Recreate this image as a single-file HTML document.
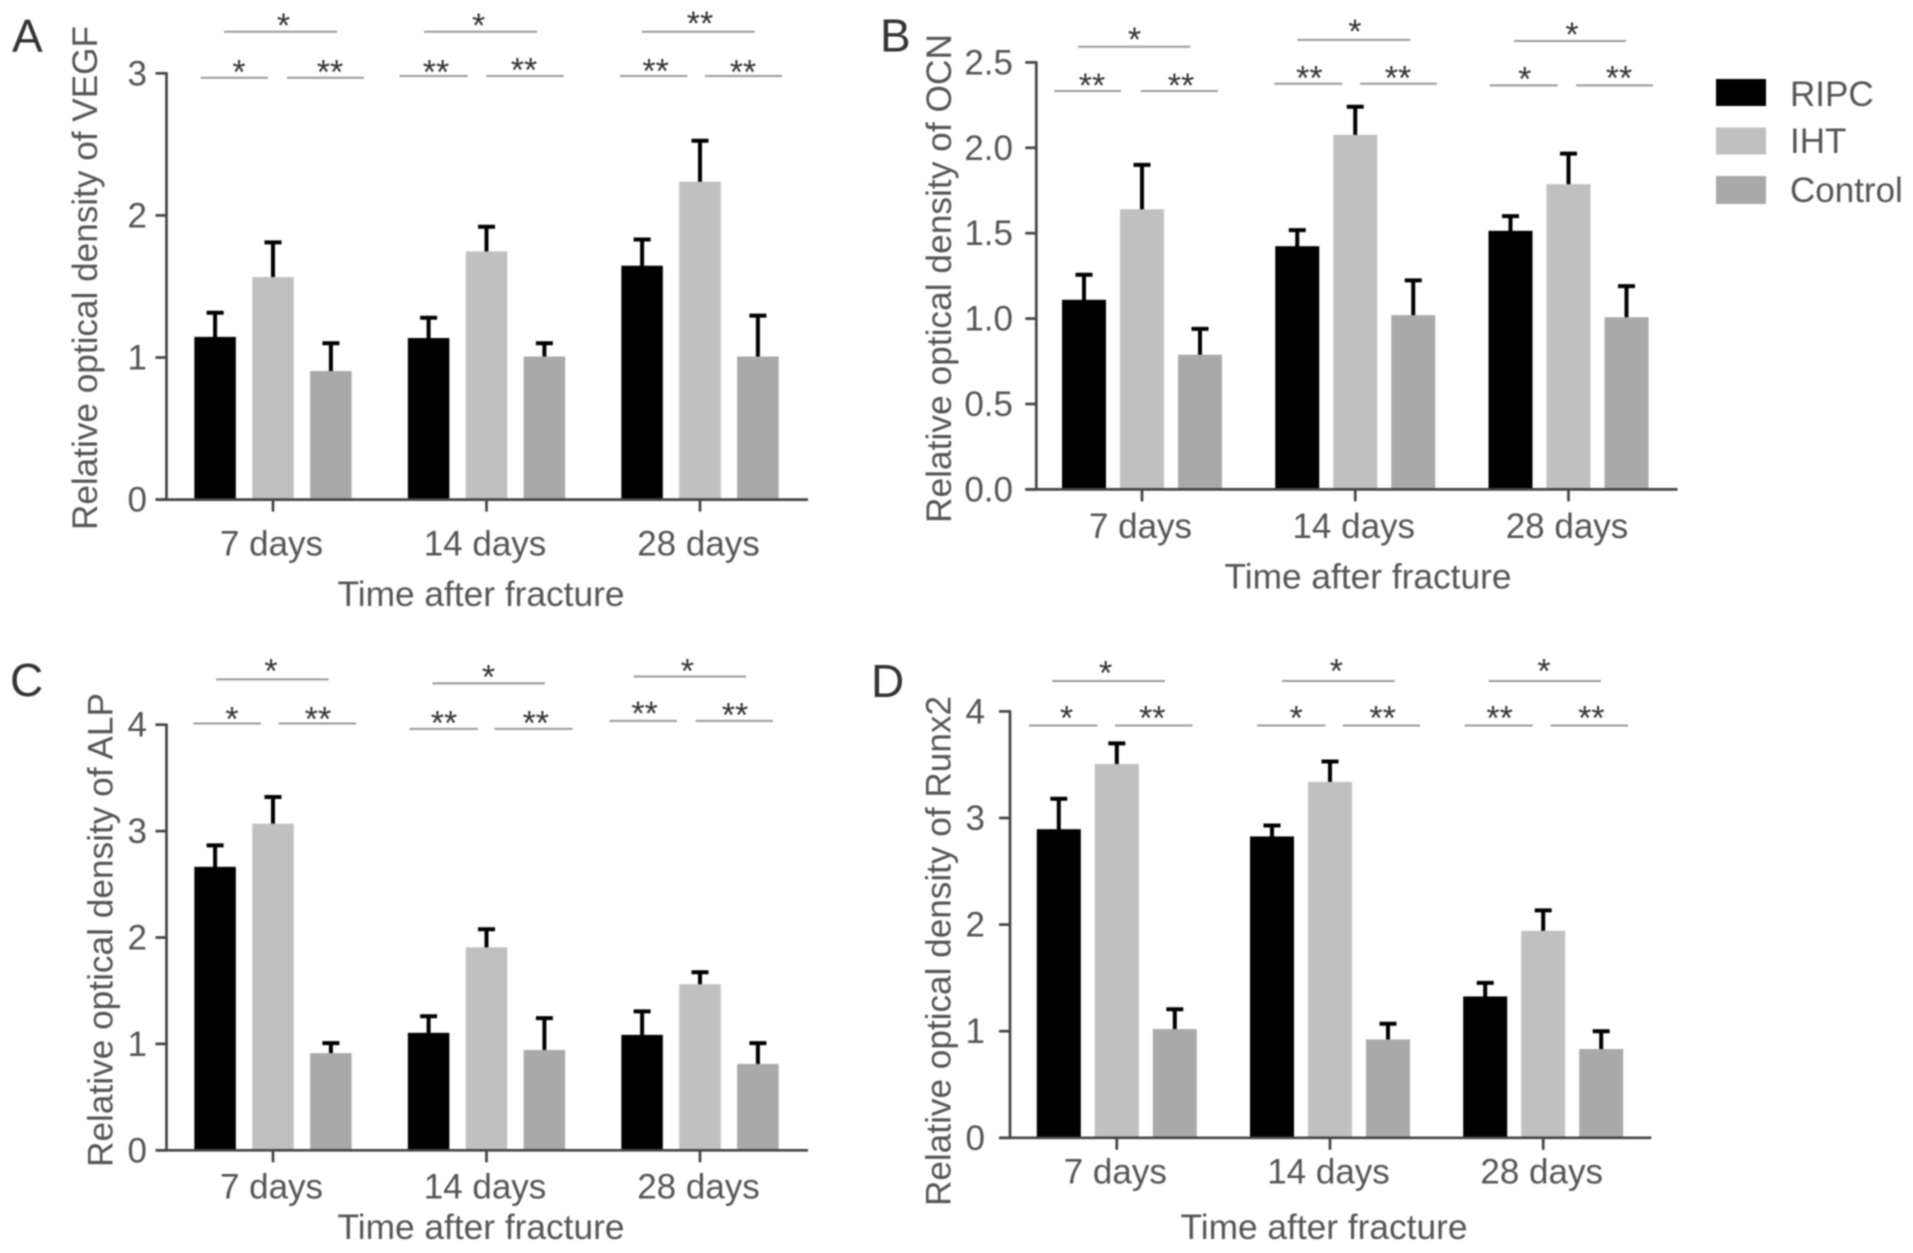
<!DOCTYPE html>
<html lang="en">
<head>
<meta charset="utf-8">
<title>Relative optical density by time after fracture</title>
<style>
html,body{margin:0;padding:0;background:#fff;}
#figure{display:block;width:1913px;height:1253px;filter:blur(0.8px);}
text{font-family:"Liberation Sans",sans-serif;fill:#555;}
</style>
</head>
<body>
<svg id="figure" xmlns="http://www.w3.org/2000/svg" width="1913" height="1253" viewBox="0 0 1913 1253">
  <g>
    <rect x="1716" y="79" width="50" height="27" fill="#000"/>
    <text x="1790" y="106" font-size="35">RIPC</text>
    <rect x="1716" y="127.5" width="50" height="27" fill="#c0c0c0"/>
    <text x="1790" y="153" font-size="35">IHT</text>
    <rect x="1716" y="176" width="50" height="28" fill="#a9a9a9"/>
    <text x="1790" y="202" font-size="35">Control</text>
  </g>
</svg>
<script>
// Shared categories and series
const categories = ["7 days", "14 days", "28 days"];
const seriesNames = ["RIPC", "IHT", "Control"];

// Panel A: VEGF
const vegfTicks = ["0", "1", "2", "3"];
const vegfRipc = [1.145, 1.137, 1.646];
const vegfIht = [1.566, 1.747, 2.237];
const vegfControl = [0.905, 1.007, 1.007];
const vegfRipcErr = [0.17, 0.143, 0.184];
const vegfIhtErr = [0.244, 0.173, 0.288];
const vegfControlErr = [0.195, 0.093, 0.288];
const vegfSigLabels = ["*", "*", "**", "*", "**", "**", "**", "**", "**"];

// Panel B: OCN
const ocnTicks = ["0.0", "0.5", "1.0", "1.5", "2.0", "2.5"];
const ocnRipc = [1.11, 1.424, 1.514];
const ocnIht = [1.64, 2.076, 1.787];
const ocnControl = [0.789, 1.02, 1.008];
const ocnRipcErr = [0.147, 0.094, 0.086];
const ocnIhtErr = [0.26, 0.164, 0.179];
const ocnControlErr = [0.151, 0.204, 0.182];
const ocnSigLabels = ["*", "*", "*", "**", "**", "**", "**", "*", "**"];

// Panel C: ALP
const alpTicks = ["0", "1", "2", "3", "4"];
const alpRipc = [2.664, 1.104, 1.085];
const alpIht = [3.07, 1.908, 1.56];
const alpControl = [0.913, 0.943, 0.812];
const alpRipcErr = [0.202, 0.156, 0.221];
const alpIhtErr = [0.25, 0.169, 0.113];
const alpControlErr = [0.094, 0.299, 0.195];
const alpSigLabels = ["*", "*", "*", "*", "**", "**", "**", "**", "**"];

// Panel D: Runx2
const runxTicks = ["0", "1", "2", "3", "4"];
const runxRipc = [2.895, 2.827, 1.326];
const runxIht = [3.507, 3.339, 1.942];
const runxControl = [1.02, 0.923, 0.833];
const runxRipcErr = [0.285, 0.103, 0.127];
const runxIhtErr = [0.193, 0.191, 0.191];
const runxControlErr = [0.186, 0.147, 0.167];
const runxSigLabels = ["*", "*", "*", "*", "**", "*", "**", "**", "**"];

const seriesColors = ["#000000", "#c0c0c0", "#a9a9a9"];
const SVG_NS = "http://www.w3.org/2000/svg";
const figure = document.getElementById("figure");

function mk(parent, tag, attrs, content) {
  const node = document.createElementNS(SVG_NS, tag);
  for (const key in attrs) node.setAttribute(key, attrs[key]);
  if (content !== undefined) node.textContent = content;
  parent.appendChild(node);
  return node;
}

const panels = [
  { id: "a", letter: "A", letterX: 12, letterY: 52, ticks: vegfTicks,
    yMax: 3, axisX: 166.5, axisEnd: 808, y0: 499.6, yTop: 73.3, firstGroup: 273, groupStep: 213.5,
    barWidth: 41.5, barPitch: 57.9, tickLabelX: 147,
    yTitle: "Relative optical density of VEGF", yTitleX: 97, yTitleBottom: 530, yTitleLen: 504,
    catY: 555.6, xTitleX: 481, xTitleY: 606,
    means: [vegfRipc, vegfIht, vegfControl], errs: [vegfRipcErr, vegfIhtErr, vegfControlErr],
    sigLabels: vegfSigLabels,
    sigLines: [[224,337,31.8],[424,537,31.8],[642,755,31.8],[200.6,268,77.7],[287,364,77.7],[399.5,467.6,76],[486.3,563.8,76],[620,687.4,76],[705,782,76]],
    sigStars: [[283.5,20],[478.6,20],[700,18],[239,66.4],[330,66.4],[436,66.4],[524,64.4],[655.6,65.6],[743,66.4]] },
  { id: "b", letter: "B", letterX: 880, letterY: 51.5, ticks: ocnTicks,
    yMax: 2.5, axisX: 1036.3, axisEnd: 1677.5, y0: 489.4, yTop: 62.4, firstGroup: 1142, groupStep: 213.25,
    barWidth: 44, barPitch: 58, tickLabelX: 1013,
    yTitle: "Relative optical density of OCN", yTitleX: 951, yTitleBottom: 523, yTitleLen: 489,
    catY: 538, xTitleX: 1368, xTitleY: 588.6,
    means: [ocnRipc, ocnIht, ocnControl], errs: [ocnRipcErr, ocnIhtErr, ocnControlErr],
    sigLabels: ocnSigLabels,
    sigLines: [[1078,1190.3,46.7],[1297.3,1410.3,39.9],[1514,1626,41],[1054.4,1121,91],[1140.6,1218,91],[1274.4,1342.4,83.7],[1360,1437,83.7],[1489.7,1557.7,85.4],[1576,1653,85.4]],
    sigStars: [[1134.5,34],[1355,26],[1572,29],[1092,80],[1181,80],[1309.4,72.5],[1398,72.5],[1524.7,73.7],[1619,72.5]] },
  { id: "c", letter: "C", letterX: 10, letterY: 696, ticks: alpTicks,
    yMax: 4, axisX: 166.5, axisEnd: 808, y0: 1150.3, yTop: 724.7, firstGroup: 273, groupStep: 213.5,
    barWidth: 41.5, barPitch: 57.9, tickLabelX: 147,
    yTitle: "Relative optical density of ALP", yTitleX: 112.6, yTitleBottom: 1167, yTitleLen: 474,
    catY: 1198.4, xTitleX: 481, xTitleY: 1239,
    means: [alpRipc, alpIht, alpControl], errs: [alpRipcErr, alpIhtErr, alpControlErr],
    sigLabels: alpSigLabels,
    sigLines: [[216,328.6,679.4],[432.5,545,683.4],[633.6,746,676.5],[193.4,261,723.5],[278.6,356,723.5],[409.4,478,728.9],[494.5,572.6,728.9],[609.4,677,720.9],[695.7,773,720.9]],
    sigStars: [[271,665.6],[488.5,671.5],[687.4,665.6],[232,713.5],[318,713.5],[444,717.6],[535.8,717.6],[644.6,708.1],[735,709.6]] },
  { id: "d", letter: "D", letterX: 871, letterY: 697, ticks: runxTicks,
    yMax: 4, axisX: 1010, axisEnd: 1651.3, y0: 1137.8, yTop: 711.4, firstGroup: 1116.8, groupStep: 213.2,
    barWidth: 44, barPitch: 58, tickLabelX: 985,
    yTitle: "Relative optical density of Runx2", yTitleX: 950.7, yTitleBottom: 1206, yTitleLen: 510,
    catY: 1183.6, xTitleX: 1324, xTitleY: 1239,
    means: [runxRipc, runxIht, runxControl], errs: [runxRipcErr, runxIhtErr, runxControlErr],
    sigLabels: runxSigLabels,
    sigLines: [[1052.3,1165,681],[1282,1394.7,681],[1488.6,1601,681],[1029,1097.4,725.5],[1115,1192.4,725.5],[1257.3,1325.4,725.5],[1343,1420,725.5],[1464.5,1532.6,725.5],[1550.7,1628,725.5]],
    sigStars: [[1105.6,667.4],[1336.4,665.6],[1544,665.6],[1066.6,712.7],[1152.3,712.7],[1296.3,712.7],[1382.6,712.7],[1499.6,712.7],[1591.4,712.7]] }
];

panels.forEach(function (p) {
  const yScale = function (v) { return p.y0 - (v / p.yMax) * (p.y0 - p.yTop); };
  const xGroup = function (i) { return p.firstGroup + i * p.groupStep; };
  const xBar = function (g, s) { return xGroup(g) + (s - 1) * p.barPitch; };

  const g = mk(figure, "g", {});
  
  

  const letter = mk(g, "text", { x: p.letterX, y: p.letterY, "font-size": 46, style: "fill:#333" }, p.letter);
  
  

  // Bars and error bars
  p.means.forEach(function (values, s) {
    values.forEach(function (value, c) {
      const cx = xBar(c, s);
      const top = yScale(value);
      const errTop = yScale(value + p.errs[s][c]);

      const stem = mk(g, "line", { x1: cx, x2: cx, y1: top + 2, y2: errTop, stroke: "#000", "stroke-width": 4 });
      
      

      const cap = mk(g, "line", { x1: cx - 8.5, x2: cx + 8.5, y1: errTop, y2: errTop, stroke: "#000", "stroke-width": 4 });
      
      

      const bar = mk(g, "rect", { x: cx - p.barWidth / 2, y: top, width: p.barWidth, height: p.y0 - top, fill: seriesColors[s] });
      
      
    });
  });

  // Axes
  const yAxis = mk(g, "line", { x1: p.axisX, x2: p.axisX, y1: p.yTop - 1.2, y2: p.y0 + 1.2, stroke: "#444", "stroke-width": 2.7 });
  
  

  const xAxis = mk(g, "line", { x1: p.axisX - 11, x2: p.axisEnd, y1: p.y0, y2: p.y0, stroke: "#444", "stroke-width": 2.7 });
  
  

  p.ticks.forEach(function (label) {
    const y = yScale(parseFloat(label));
    const tick = mk(g, "line", { x1: p.axisX - 11, x2: p.axisX, y1: y, y2: y, stroke: "#444", "stroke-width": 2.7 });
    
    

    const tickLabel = mk(g, "text", { x: p.tickLabelX, y: y + 12, "font-size": 35, "text-anchor": "end" }, label);
    
    
  });

  categories.forEach(function (label, i) {
    const x = xGroup(i);
    const tick = mk(g, "line", { x1: x, x2: x, y1: p.y0, y2: p.y0 + 12, stroke: "#444", "stroke-width": 2.7 });
    
    

    const catLabel = mk(g, "text", { x: x - 1.5, y: p.catY, "font-size": 35, "text-anchor": "middle" }, label);
    
    
  });

  const xTitle = mk(g, "text", { x: p.xTitleX, y: p.xTitleY, "font-size": 35, "text-anchor": "middle", textLength: 287, lengthAdjust: "spacingAndGlyphs" }, "Time after fracture");
  
  

  const yTitle = mk(g, "text", { transform: "translate(" + p.yTitleX + "," + p.yTitleBottom + ") rotate(-90)", "font-size": 35, textLength: p.yTitleLen, lengthAdjust: "spacingAndGlyphs" }, p.yTitle);
  
  

  // Significance brackets
  p.sigLines.forEach(function (seg, i) {
    const line = mk(g, "line", { x1: seg[0], x2: seg[1], y1: seg[2], y2: seg[2], stroke: "#999", "stroke-width": 2 });
    
    

    const star = mk(g, "text", { x: p.sigStars[i][0], y: p.sigStars[i][1] + 17, "font-size": 34, "text-anchor": "middle", style: "fill:#333" }, p.sigLabels[i]);
    
    
  });
});
</script>
</body>
</html>
